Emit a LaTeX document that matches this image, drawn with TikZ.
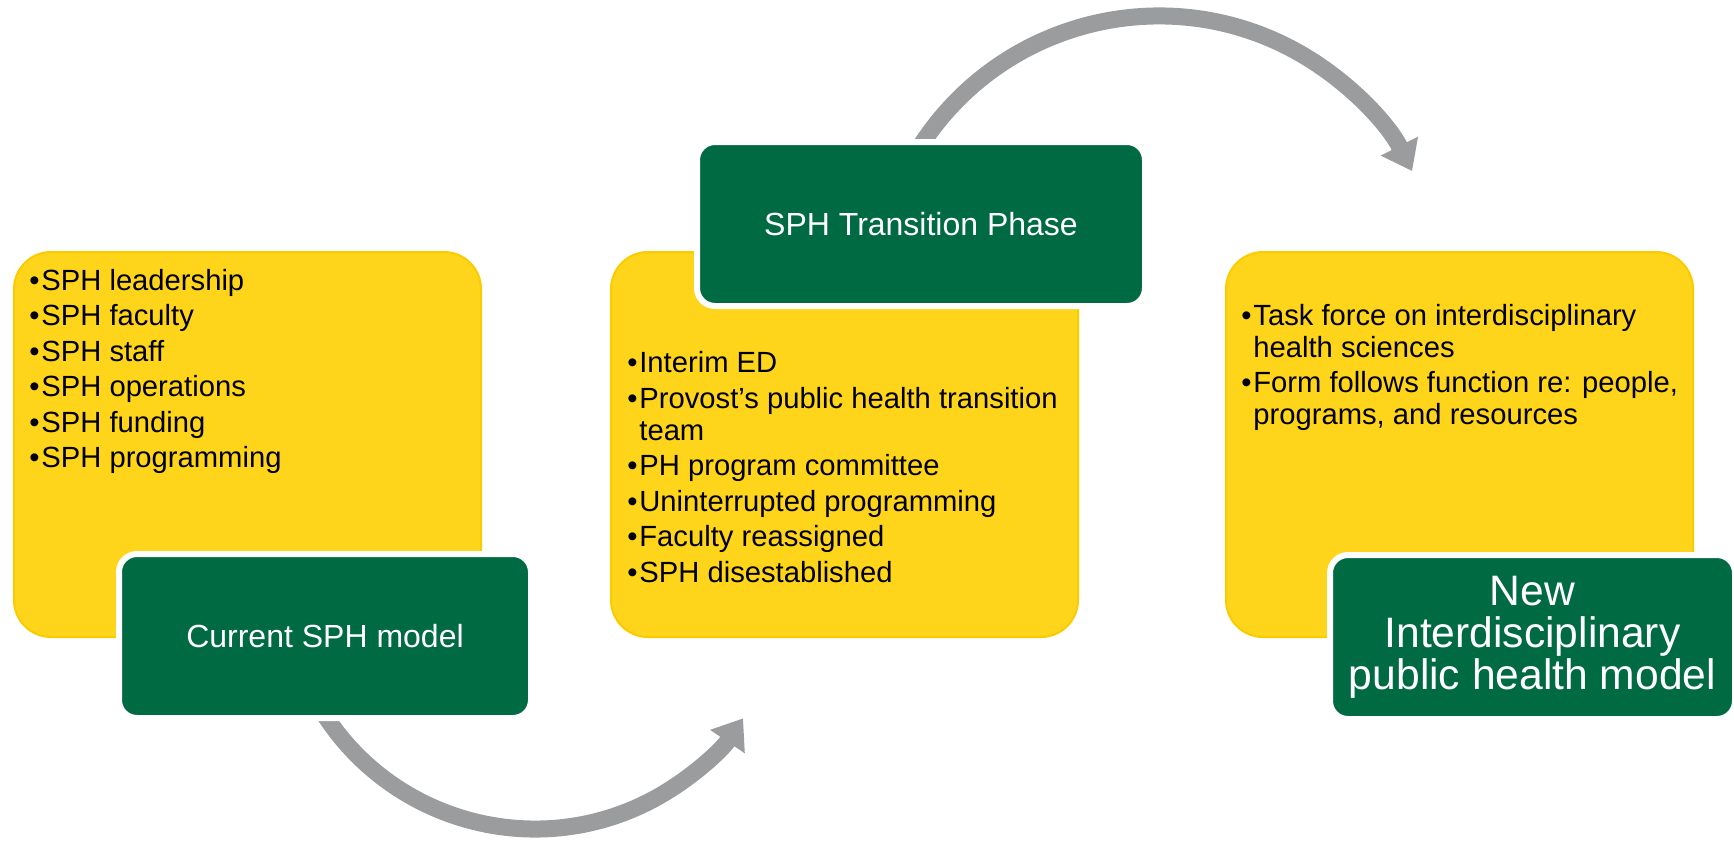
\documentclass[tikz,border=0pt]{standalone}
\usepackage{fontspec}
\setmainfont{Liberation Sans}
\usepackage{tikz}
\usetikzlibrary{arrows.meta}
\definecolor{sphgold}{RGB}{254,213,26}
\definecolor{sphrim}{RGB}{250,204,0}
\definecolor{sphgreen}{RGB}{0,106,66}
\definecolor{sphgray}{RGB}{155,156,158}
\tikzset{>={Triangle[length=14pt, width=20pt]}}
\newcommand{\bul}{\makebox[6pt][l]{\textbullet}}

\begin{document}
\begin{tikzpicture}[x=0.5pt, y=-0.5pt,
    goldbox/.style={draw=sphrim, line width=1pt, fill=sphgold, rounded corners=18.5pt,
        minimum width=233.5pt, minimum height=192.5pt, inner sep=0pt},
    greenbox/.style={draw=white, line width=3pt, fill=sphgreen, rounded corners=9pt,
        minimum height=82pt, inner sep=0pt, text=white, align=center,
        font=\fontsize{16}{19.2}\selectfont},
    item/.style={anchor=base west, inner sep=0pt, font=\fontsize{14.6}{17.5}\selectfont},
    flow/.style={->, draw=sphgray, line width=8.5pt}]
        \useasboundingbox (0, 0) rectangle (1734, 847);
        % curved arrows, ends tucked under the green boxes
        \coordinate (a1) at (317.6, 703.5);
        \coordinate (a2) at (915.6, 153.7);
        \draw[flow] (a1) arc[start angle=150, end angle=34, radius=251];
        \draw[flow] (a2) arc[start angle=211, end angle=333, radius=284];
        % yellow boxes
        \node[goldbox] (curbox) at (247.5, 444.5) {};
        \node[goldbox] (trnbox) at (844.5, 444.5) {};
        \node[goldbox] (newbox) at (1459.5, 444.5) {};
        % green boxes
        \node[greenbox, minimum width=206pt] (cur) at (325, 636) {Current SPH model};
        \node[greenbox, minimum width=224pt] (trn) at (921, 224) {SPH Transition Phase};
        \node[greenbox, minimum width=202.5pt, font=\fontsize{21.3}{21}\selectfont] (new) at (1532.5, 637)
            {New\\Interdisciplinary\\public health model};
        % bullet lists
        \foreach \txt [count=\i] in {SPH leadership, SPH faculty, SPH staff, SPH operations,
            SPH funding, SPH programming}
            \node[item] (c\i) at (29, 254.5 + 35.5*\i) {\bul\txt};
        \foreach \yy/\txt [count=\i] in {372/\bul Interim ED,
            408/\bul Provost's public health transition, 440/\hspace{6pt}team,
            475/\bul PH program committee, 511/\bul Uninterrupted programming,
            546/\bul Faculty reassigned, 582/\bul SPH disestablished}
            \node[item] (t\i) at (627, \yy) {\txt};
        \foreach \yy/\txt [count=\i] in {325/\bul Task force on interdisciplinary,
            357/\hspace{6pt}health sciences, 392/{\bul Form follows function re: people,},
            424/{\hspace{6pt}programs, and resources}}
            \node[item] (n\i) at (1241, \yy) {\txt};
\end{tikzpicture}
\end{document}
